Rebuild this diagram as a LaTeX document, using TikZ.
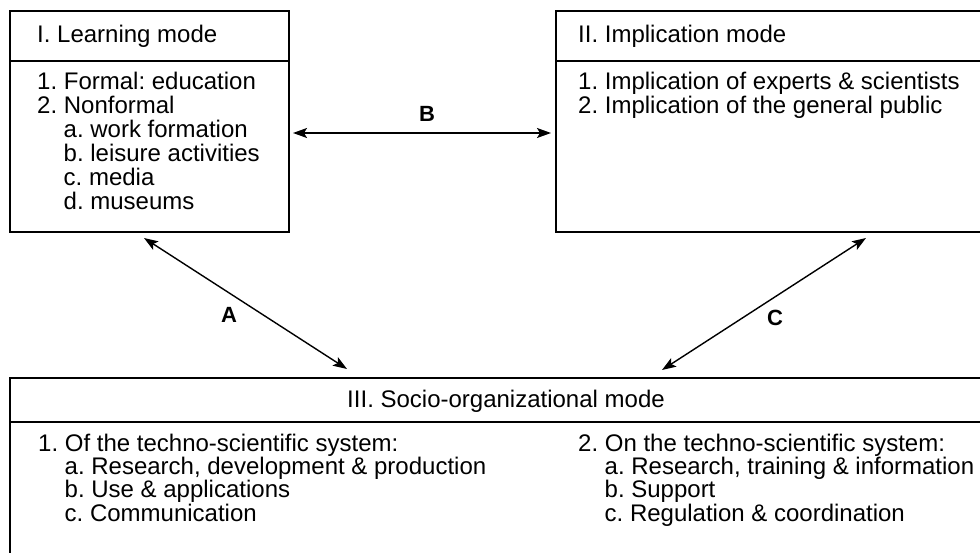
\documentclass[tikz,border=0pt]{standalone}
\usepackage{fontspec}
\setmainfont{Liberation Sans}
\usetikzlibrary{arrows.meta}
\frenchspacing
\begin{document}
\begin{tikzpicture}[x=1pt,y=-1pt,
  box/.style={draw, line width=1.8pt, inner sep=0pt, anchor=north west},
  txt/.style={anchor=base west, inner sep=0pt, font=\fontsize{24}{24}\selectfont},
  ctxt/.style={anchor=base, inner sep=0pt, font=\fontsize{24}{24}\selectfont},
  lbl/.style={inner sep=0pt, font=\fontsize{22}{22}\selectfont\bfseries},
  dbl/.style={{Stealth[length=14pt,width=10pt,inset=3pt]}-{Stealth[length=14pt,width=10pt,inset=3pt]}, line width=1.4pt}]
\useasboundingbox (0,0) rectangle (980,553);
\clip (0,0) rectangle (980,553);

% Box I
\node[box, minimum width=279pt, minimum height=50pt] (h1) at (9,10) {};
\node[box, minimum width=279pt, minimum height=171pt] (b1) at (9,60) {};
\node[txt] (t1) at (37,43) {I. Learning mode};
\node[txt] (t1a) at (37,90) {1. Formal: education};
\node[txt] (t1b) at (37,114) {2. Nonformal};
\node[txt] (t1c) at (63.5,138) {a. work formation};
\node[txt] (t1d) at (63.5,162) {b. leisure activities};
\node[txt] (t1e) at (63.5,186) {c. media};
\node[txt] (t1f) at (63.5,210) {d. museums};

% Box II
\node[box, minimum width=460pt, minimum height=50pt] (h2) at (555,10) {};
\node[box, minimum width=460pt, minimum height=171pt] (b2) at (555,60) {};
\node[txt] (t2) at (578,43) {II. Implication mode};
\node[txt] (t2a) at (578,90) {1. Implication of experts \& scientists};
\node[txt] (t2b) at (578,114) {2. Implication of the general public};

% Box III
\node[box, minimum width=994pt, minimum height=44pt] (h3) at (9,377) {};
\node[box, minimum width=994pt, minimum height=200pt] (b3) at (9,421) {};
\node[ctxt] (t3) at (506,407) {III. Socio-organizational mode};
\node[txt] (t3a) at (38,451) {1. Of the techno-scientific system:};
\node[txt] (t3b) at (64.5,474.4) {a. Research, development \& production};
\node[txt] (t3c) at (64.5,497.8) {b. Use \& applications};
\node[txt] (t3d) at (64.5,521.2) {c. Communication};
\node[txt] (t3e) at (578,451) {2. On the techno-scientific system:};
\node[txt] (t3f) at (604.5,474.4) {a. Research, training \& information};
\node[txt] (t3g) at (604.5,497.8) {b. Support};
\node[txt] (t3h) at (604.5,521.2) {c. Regulation \& coordination};

% Connectors
\coordinate (a1) at (144,238);
\coordinate (a2) at (347,369);
\coordinate (c1) at (866,238);
\coordinate (c2) at (662,370);
\coordinate (bb1) at (293,133);
\coordinate (bb2) at (551,133);
\draw[dbl] (a1) -- (a2);
\draw[dbl] (c1) -- (c2);
\draw[dbl] (bb1) -- (bb2);
\node[lbl] (la) at (229,315) {A};
\node[lbl] (lb) at (427,114) {B};
\node[lbl] (lc) at (775,318) {C};
\end{tikzpicture}
\end{document}
